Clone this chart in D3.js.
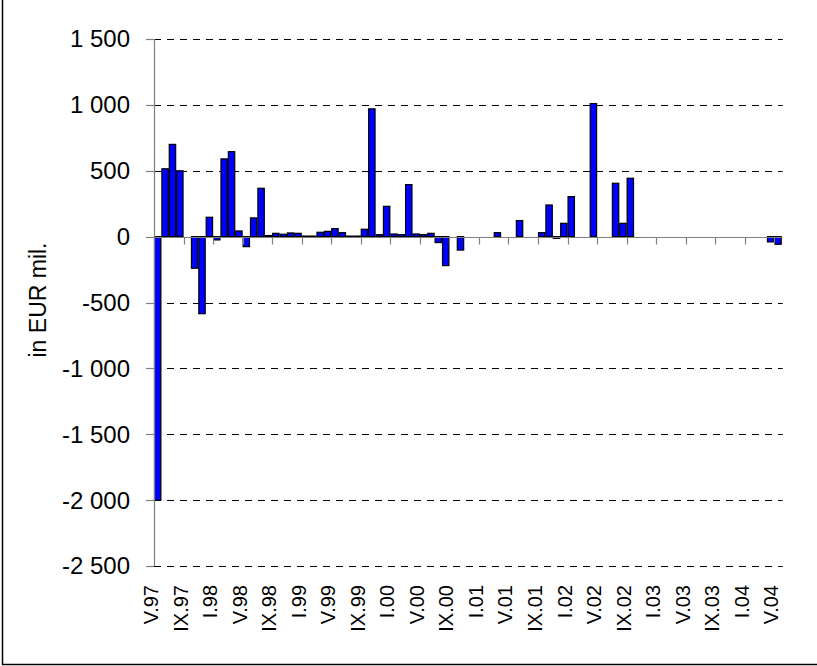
<!DOCTYPE html>
<html>
<head>
<meta charset="utf-8">
<script src="https://cdn.jsdelivr.net/npm/d3@7"></script>
<style>
  html, body { margin: 0; padding: 0; background: #fff; }
  svg { display: block; }
  text { font-family: Arial, "Liberation Sans", sans-serif; fill: #000; }
</style>
</head>
<body>
<svg id="chart" width="817" height="666"></svg>
<script>
// Monthly categories May 1997 .. May 2004
const romanMonths = ["I","II","III","IV","V","VI","VII","VIII","IX","X","XI","XII"];
const categories = [];
for (let i = 0; i < 85; i++) {
  const m = (4 + i) % 12;
  const y = 1997 + Math.floor((4 + i) / 12);
  categories.push(romanMonths[m] + "." + String(y % 100).padStart(2, "0"));
}

// Values in EUR mil.
const values = [
  -2000, 515, 700, 500, 0, -240, -585, 147,
  -25, 590, 645, 43, -76, 142, 367, 8,
  25, 18, 28, 25, 4, 4, 33, 40,
  61, 30, 4, 4, 56, 970, 15, 230,
  20, 15, 395, 20, 15, 25, -45, -220,
  0, -102, 0, 0, 0, 0, 30, 0,
  0, 122, 0, 0, 30, 240, -13, 101,
  304, 0, 0, 1010, 0, 0, 405, 101,
  443, 0, 0, 0, 0, 0, 0, 0,
  0, 0, 0, 0, 0, 0, 0, 0,
  0, 0, 0, -40, -58
];

// Tick labels (every 4th month)
const tickLabels = ["V.97","IX.97","I.98","V.98","IX.98","I.99","V.99","IX.99","I.00","V.00","IX.00",
                    "I.01","V.01","IX.01","I.02","V.02","IX.02","I.03","V.03","IX.03","I.04","V.04"];
const yTicks = [1500, 1000, 500, 0, -500, -1000, -1500, -2000, -2500];
const yTitle = "in EUR mil.";

const svg = d3.select("#chart");

// outer frame
svg.append("rect")
  .attr("x", 2.5).attr("y", -3).attr("width", 818).attr("height", 667.5)
  .attr("fill", "none").attr("stroke", "#000").attr("stroke-width", 1.5);

const left = 154, right = 154 + 85 * 7.385;
const x = d3.scaleBand().domain(d3.range(categories.length)).range([left, right]).padding(0);
const y = d3.scaleLinear().domain([-2500, 1500]).range([566, 39]);

const fmt = v => {
  const s = Math.abs(v).toString().replace(/\B(?=(\d{3})+(?!\d))/g, " ");
  return (v < 0 ? "-" : "") + s;
};

// gridlines
svg.append("g").selectAll("line")
  .data(yTicks.filter(d => d !== 0))
  .join("line")
  .attr("x1", left).attr("x2", right + 1)
  .attr("y1", d => Math.round(y(d)) + 0.5).attr("y2", d => Math.round(y(d)) + 0.5)
  .attr("stroke", "#000").attr("stroke-width", 1)
  .attr("stroke-dasharray", "7,6");

// bars
svg.append("g").selectAll("rect")
  .data(values.map((v, i) => ({ v, i })).filter(d => d.v !== 0))
  .join("rect")
  .attr("x", d => x(d.i) + 0.5)
  .attr("width", x.bandwidth() - 1)
  .attr("y", d => y(Math.max(0, d.v)))
  .attr("height", d => Math.abs(y(d.v) - y(0)))
  .attr("fill", "#0000ff")
  .attr("stroke", "#000")
  .attr("stroke-width", 1.2);

// x axis line at 0
const y0 = Math.round(y(0)) + 0.5;
svg.append("line")
  .attr("x1", left).attr("x2", right + 1)
  .attr("y1", y0).attr("y2", y0)
  .attr("stroke", "#808080").attr("stroke-width", 1.2);

// x ticks at every 4th boundary
const tickIdx = d3.range(0, 85, 4);
svg.append("g").selectAll("line")
  .data(tickIdx.filter(i => i > 0))
  .join("line")
  .attr("x1", i => Math.round(x(i)) + 0.5).attr("x2", i => Math.round(x(i)) + 0.5)
  .attr("y1", y0).attr("y2", y0 + 7)
  .attr("stroke", "#808080").attr("stroke-width", 1.2);

// y axis
svg.append("line")
  .attr("x1", left + 0.5).attr("x2", left + 0.5)
  .attr("y1", y(1500)).attr("y2", y(-2500))
  .attr("stroke", "#808080").attr("stroke-width", 1.2);
svg.append("g").selectAll("line")
  .data(yTicks)
  .join("line")
  .attr("x1", left - 8).attr("x2", left)
  .attr("y1", d => Math.round(y(d)) + 0.5).attr("y2", d => Math.round(y(d)) + 0.5)
  .attr("stroke", "#808080").attr("stroke-width", 1.2);

// y tick labels
svg.append("g").selectAll("text")
  .data(yTicks)
  .join("text")
  .attr("x", 130).attr("y", d => y(d))
  .attr("dy", "0.35em")
  .attr("text-anchor", "end")
  .style("font-size", "24px")
  .text(fmt);

// x tick labels
svg.append("g").selectAll("text")
  .data(tickLabels)
  .join("text")
  .attr("transform", (d, k) => `translate(${x(tickIdx[k]) - 3},585) rotate(-90)`)
  .attr("dy", "0.35em")
  .attr("text-anchor", "end")
  .style("font-size", "20px")
  .text(d => d);

// y title
svg.append("text")
  .attr("transform", "translate(38,300) rotate(-90)")
  .attr("dy", "0.35em")
  .attr("text-anchor", "middle")
  .style("font-size", "23px")
  .text(yTitle);
</script>
</body>
</html>
